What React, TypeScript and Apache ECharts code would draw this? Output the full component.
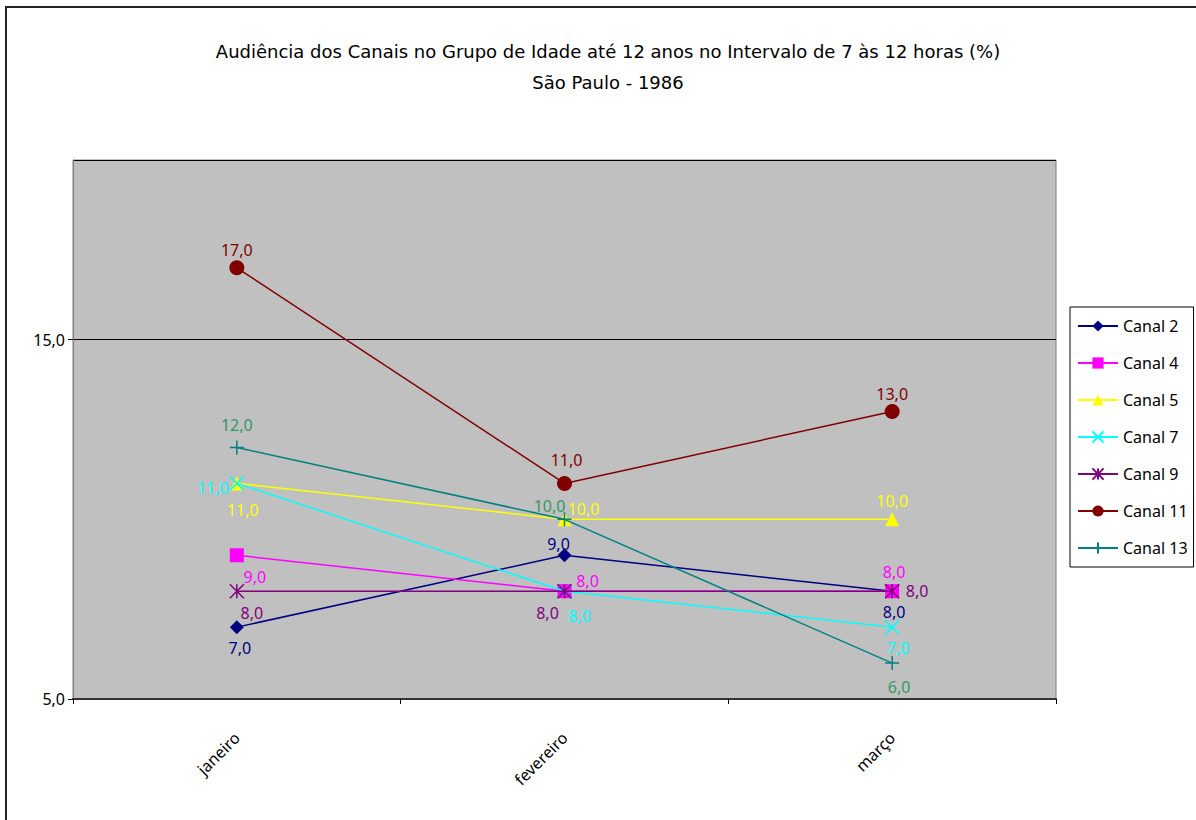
import React, { useEffect, useRef } from "react";
import * as echarts from "echarts";

const months = ["janeiro", "fevereiro", "março"];
const seriesNames = ["Canal 2", "Canal 4", "Canal 5", "Canal 7", "Canal 9", "Canal 11", "Canal 13"];
const canal2 = [7, 9, 8];
const canal4 = [9, 8, 8];
const canal5 = [11, 10, 10];
const canal7 = [11, 8, 7];
const canal9 = [8, 8, 8];
const canal11 = [17, 11, 13];
const canal13 = [12, 10, 6];
const yTicks = [5, 15];

const values = [canal2, canal4, canal5, canal7, canal9, canal11, canal13];
const colors = ["#000080", "#FF00FF", "#FFFF00", "#00FFFF", "#800080", "#800000", "#008080"];
const labelColors = ["#000080", "#FF00FF", "#FFFF00", "#00FFFF", "#800080", "#800000", "#339966"];
const symbols = [
  "diamond",
  "rect",
  "triangle",
  "path://M0,0L10,10M10,0L0,10",
  "path://M0,0L10,10M10,0L0,10M5,0L5,10",
  "circle",
  "path://M0,5L10,5M5,0L5,10",
];
const symbolSizes = [14, 14, 14, 14, 14, 15, 14];
// label offsets relative to each point (center of label)
const labelOffsets = [
  [[3, 21], [-6, -11], [2, 21]],
  [[18, 22], [23, -10], [2, -19]],
  [[6, 27], [19, -10], [0, -18]],
  [[-24, 5], [15, 25], [6, 21]],
  [[15, 22], [-17, 22], [25, 0]],
  [[0, -18], [2, -23], [0, -18]],
  [[0, -22], [-15, -13], [7, 24]],
];

const FONT = "'Noto Sans', sans-serif";
const TITLE_FONT = "'DejaVu Sans', sans-serif";
const fmt = (v: number) => v.toFixed(1).replace(".", ",");

export default function App() {
  const ref = useRef<HTMLDivElement>(null);
  useEffect(() => {
    if (!ref.current) return;
    const chart = echarts.init(ref.current, undefined, { renderer: "svg" });
    const isStroke = (i: number) => symbols[i].startsWith("path://");
    chart.setOption({
      animation: false,
      backgroundColor: "#ffffff",
      textStyle: { fontFamily: FONT },
      title: {
        text: "Audiência dos Canais no Grupo de Idade até 12 anos no Intervalo de 7 às 12 horas (%)",
        subtext: "São Paulo - 1986",
        left: 603,
        textAlign: "center",
        top: 37,
        itemGap: 13,
        textStyle: { fontFamily: TITLE_FONT, fontSize: 18, fontWeight: "normal", color: "#000" },
        subtextStyle: { fontFamily: TITLE_FONT, fontSize: 18, color: "#000" },
      },
      graphic: [
        {
          type: "rect",
          shape: { x: 6, y: 7, width: 1400, height: 1000 },
          style: { fill: "none", stroke: "#222", lineWidth: 2 },
          silent: true,
        },
      ],
      legend: {
        orient: "vertical",
        left: 1070,
        top: 307,
        width: 122,
        padding: [11, 6, 11, 7],
        itemGap: 21,
        itemWidth: 40,
        itemHeight: 14,
        backgroundColor: "#ffffff",
        borderColor: "#000",
        borderWidth: 1,
        textStyle: { fontFamily: FONT, fontSize: 16, color: "#000" },
        data: seriesNames,
      },
      grid: {
        left: 73,
        top: 160,
        right: 140,
        bottom: 121,
        show: true,
        backgroundColor: "#C0C0C0",
        borderColor: "#808080",
        borderWidth: 1,
      },
      xAxis: {
        type: "category",
        data: months,
        boundaryGap: true,
        axisLine: { show: true, lineStyle: { color: "#333", width: 2 } },
        axisTick: { show: true, length: 5, lineStyle: { color: "#000" } },
        axisLabel: { rotate: 45, margin: 36, fontSize: 16, color: "#000", fontFamily: FONT },
        splitLine: { show: false },
      },
      yAxis: {
        type: "value",
        min: yTicks[0],
        max: 20,
        interval: yTicks[1] - yTicks[0],
        axisLine: { show: true, lineStyle: { color: "#808080" } },
        axisTick: { show: true, length: 5, lineStyle: { color: "#000" } },
        axisLabel: {
          formatter: (v: number) => (yTicks.includes(v) ? fmt(v) : ""),
          showMaxLabel: false,
          fontSize: 16,
          color: "#000",
          fontFamily: FONT,
          margin: 8,
        },
        splitLine: { show: true, lineStyle: { color: "#000", width: 1 } },
      },
      series: seriesNames.map((name, i) => ({
        name,
        type: "line",
        symbol: symbols[i],
        symbolSize: symbolSizes[i],
        lineStyle: { color: colors[i], width: 1.5 },
        itemStyle: isStroke(i)
          ? { color: colors[i], borderColor: colors[i], borderWidth: 1.5 }
          : { color: colors[i] },
        z: 2 + i,
        data: values[i].map((v, j) => ({
          value: v,
          label: {
            show: true,
            position: "inside",
            offset: labelOffsets[i][j],
            align: "center",
            verticalAlign: "middle",
            formatter: () => fmt(v),
            color: labelColors[i],
            fontSize: 16,
            fontFamily: FONT,
          },
        })),
      })),
    });
    return () => chart.dispose();
  }, []);
  return (
    <div
      ref={ref}
      style={{ position: "fixed", left: 0, top: 0, width: 1196, height: 820 }}
    />
  );
}
